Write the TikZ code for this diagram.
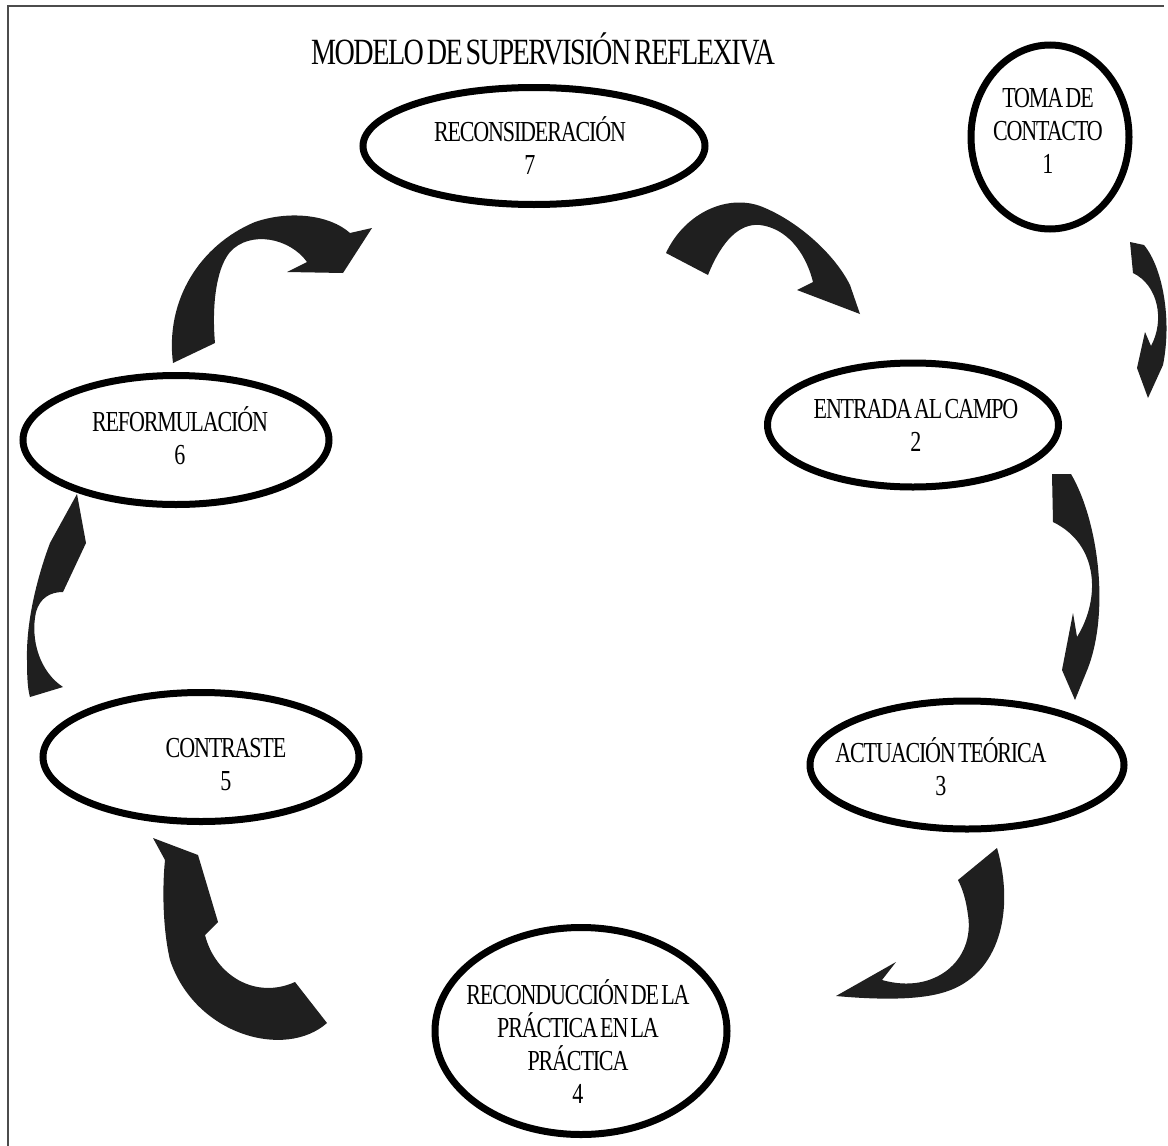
\documentclass[tikz,border=0pt]{standalone}
\usepackage{fontspec}
\setmainfont{Liberation Serif}[FakeStretch=0.76,LetterSpace=-4,WordSpace=0.5]
\usetikzlibrary{shapes.geometric}
\begin{document}
\begin{tikzpicture}[x=1pt,y=-1pt,
  ell/.style={draw, ellipse, line width=7pt, inner sep=0pt},
  lbl/.style={align=center, font=\fontsize{29}{33}\selectfont, inner sep=0pt},
  ttl/.style={font=\fontsize{37}{40}\selectfont, inner sep=0pt},
  blk/.style={fill=black!88, draw=none},
  frm/.style={draw=black!70, line width=1.2pt}]
\useasboundingbox (0,0) rectangle (1168,1146);
\coordinate (fa) at (8,1146);
\coordinate (fb) at (8,6);
\coordinate (fc) at (1164,6);
\draw[frm] (fa) -- (fb) -- (fc);

\node[ttl] (title) at (543,49) {MODELO DE SUPERVISIÓN REFLEXIVA};

% ellipses
\node[ell, minimum width=342, minimum height=117] (n7) at (534,146) {};
\node[ell, minimum width=158, minimum height=184] (n1) at (1050,137) {};
\node[ell, minimum width=291, minimum height=124] (n2) at (913,425) {};
\node[ell, minimum width=314, minimum height=128] (n3) at (967,765) {};
\node[ell, minimum width=292, minimum height=207] (n4) at (581,1031) {};
\node[ell, minimum width=316, minimum height=129] (n5) at (201,757) {};
\node[ell, minimum width=306, minimum height=129] (n6) at (176,440) {};

% labels
\node[lbl] (t7) at (530,146) {RECONSIDERACIÓN\\7};
\node[lbl] (t1) at (1048,131) {TOMA DE\\CONTACTO\\1};
\node[lbl] (t2) at (916,425) {ENTRADA AL CAMPO\\2};
\node[lbl] (t3) at (941,767) {ACTUACIÓN TEÓRICA\\3};
\node[lbl] (t4) at (578,1042) {RECONDUCCIÓN DE LA\\PRÁCTICA EN LA\\PRÁCTICA\\4};
\node[lbl] (t5) at (226,765) {CONTRASTE\\5};
\node[lbl] (t6) at (180,436) {REFORMULACIÓN\\6};

% block arrows
% 7 -> 2
\fill[blk] (666,253) .. controls (685,212) and (730,192) .. (765,208)
  .. controls (800,223) and (835,255) .. (850,285) -- (860,314) -- (797,290) -- (813,282)
  .. controls (805,250) and (785,228) .. (760,225)
  .. controls (740,223) and (722,240) .. (708,275) -- cycle;
% 1 -> 2
\fill[blk] (1130,242) -- (1144,245) .. controls (1163,268) and (1172,320) .. (1163,365)
  -- (1148,398) -- (1137,368) -- (1145,332) -- (1151,346)
  .. controls (1165,320) and (1158,285) .. (1133,273) -- cycle;
% 2 -> 3
\fill[blk] (1052,474) -- (1071,474) .. controls (1098,520) and (1110,610) .. (1088,668)
  -- (1075,700) -- (1062,670) -- (1073,613) -- (1077,637)
  .. controls (1100,600) and (1100,545) .. (1053,522) -- cycle;
% 3 -> 4
\fill[blk] (958,880) -- (997,848) .. controls (1015,910) and (1000,975) .. (945,992)
  .. controls (920,1000) and (880,1000) .. (836,996) -- (896,962) -- (882,980)
  .. controls (935,995) and (975,960) .. (968,915)
  .. controls (966,900) and (963,890) .. (958,880) -- cycle;
% 4 -> 5
\fill[blk] (295,982) -- (327,1023) .. controls (285,1060) and (195,1035) .. (170,960)
  .. controls (163,930) and (162,890) .. (165,860) -- (153,838) -- (198,855) -- (218,922)
  -- (205,935) .. controls (215,975) and (255,1000) .. (295,982) -- cycle;
% 5 -> 6
\fill[blk] (30,697) -- (63,687) .. controls (40,672) and (30,640) .. (36,612)
  .. controls (40,598) and (50,592) .. (63,592) -- (86,543) -- (77,494) -- (50,543)
  .. controls (38,575) and (26,620) .. (27,660)
  .. controls (27,680) and (28,690) .. (30,697) -- cycle;
% 6 -> 7
\fill[blk] (173,363) .. controls (165,300) and (200,245) .. (255,222)
  .. controls (290,210) and (330,215) .. (350,233) -- (372,228) -- (343,273) -- (287,272)
  -- (307,262) .. controls (290,238) and (250,230) .. (230,252)
  .. controls (215,270) and (212,310) .. (215,343) -- cycle;
\end{tikzpicture}
\end{document}
